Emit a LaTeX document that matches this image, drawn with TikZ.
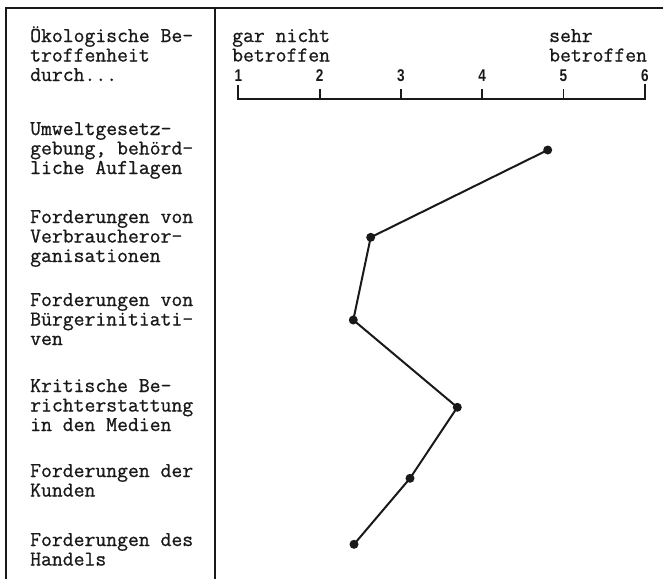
\documentclass[tikz,border=0pt]{standalone}
\usepackage{fontspec}
\setmainfont{Liberation Serif}
\newfontfamily\labnum{Liberation Sans}
\newfontfamily\labtt{Latin Modern Mono}[FakeBold=0.9]
\tikzset{
  frameline/.style={line width=2pt, black!90},
  lab/.style={font=\labtt\fontsize{21.1}{19.5}\selectfont, inner sep=0pt, anchor=base west, align=left, text=black!90},
  numlab/.style={font=\labnum\bfseries\fontsize{17}{18}\selectfont, inner sep=0pt, anchor=base, text=black!90},
  axisline/.style={line width=1.8pt, black!90},
  dataline/.style={line width=2pt, black!90},
  datadot/.style={circle, fill=black!90, inner sep=0pt, minimum size=9pt}
}
\begin{document}
\begin{tikzpicture}[x=1pt, y=-1pt]
\useasboundingbox (0,0) rectangle (663,579);
% frame
\draw[frameline] (6,579) -- (6,8) -- (663,8);
\draw[frameline] (215,8) -- (215,579);
% header texts (anchor = baseline of last line)
\node[lab] (hd) at (30,81) {Ökologische Be-\\troffenheit\\durch...};
\node[lab] (gn) at (232,61.5) {gar nicht\\betroffen};
\node[lab] (sb) at (549,61.5) {sehr\\betroffen};
% axis
\coordinate (a1) at (238.3,99);
\coordinate (a6) at (645,99);
\draw[axisline] (238.3,85) -- (a1) -- (a6) -- (645,84);
\foreach \i/\xx in {2/319.6,3/400.9,4/482.2,5/563.5}{
  \draw[axisline] (\xx,89) -- (\xx,99);
}
\foreach \i/\xx in {1/238.3,2/319.6,3/400.9,4/482.2,5/563.5,6/645}{
  \node[numlab] (n\i) at (\xx,81) {\scalebox{0.8}[1]{\i}};
}
% row labels
\node[lab] (l1) at (30,174) {Umweltgesetz-\\gebung, behörd-\\liche Auflagen};
\node[lab] (l2) at (30,262) {Forderungen von\\Verbraucheror-\\ganisationen};
\node[lab] (l3) at (30,345) {Forderungen von\\Bürgerinitiati-\\ven};
\node[lab] (l4) at (30,431) {Kritische Be-\\richterstattung\\in den Medien};
\node[lab] (l5) at (30,496.5) {Forderungen der\\Kunden};
\node[lab] (l6) at (30,565.5) {Forderungen des\\Handels};
% data
\node[datadot] (p1) at (547.7,150) {};
\node[datadot] (p2) at (370.7,237.3) {};
\node[datadot] (p3) at (353.3,320) {};
\node[datadot] (p4) at (457.3,407.3) {};
\node[datadot] (p5) at (410,478.3) {};
\node[datadot] (p6) at (354,544.3) {};
\draw[dataline] (p1.center) -- (p2.center) -- (p3.center) -- (p4.center) -- (p5.center) -- (p6.center);
\end{tikzpicture}
\end{document}
